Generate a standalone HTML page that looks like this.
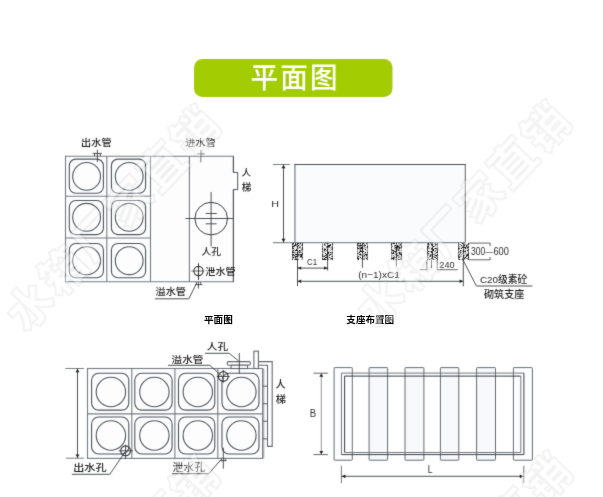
<!DOCTYPE html>
<html lang="zh-CN">
<head>
<meta charset="utf-8">
<title>平面图</title>
<style>
html,body{margin:0;padding:0;background:#fff;}
body{width:603px;height:497px;overflow:hidden;font-family:"Liberation Sans","Noto Sans CJK SC",sans-serif;}
svg{display:block;font-family:"Liberation Sans","Noto Sans CJK SC",sans-serif;}
</style>
</head>
<body>
<svg width="603" height="497" viewBox="0 0 603 497">
<defs><filter id="soft" x="0" y="0" width="100%" height="100%" filterUnits="userSpaceOnUse" color-interpolation-filters="sRGB"><feConvolveMatrix order="3" kernelMatrix="0.0113 0.0838 0.0113 0.0838 0.6196 0.0838 0.0113 0.0838 0.0113" divisor="1" edgeMode="duplicate" preserveAlpha="false"/></filter></defs>
<rect width="603" height="497" fill="#fff"/>
<g filter="url(#soft)">
<!-- title banner -->
<rect x="194" y="59" width="198.5" height="38" rx="8.5" fill="#a3cc02"/>
<text transform="translate(250.5,88.3) scale(0.97,1)" font-size="28.5" letter-spacing="2.2" fill="#fff" font-weight="500">平面图</text>
<!-- top-left: plan view -->
<rect x="65.5" y="156.3" width="167.9" height="125.5" fill="#fdfdfe"/>
<polyline points="233.4,172.4 233.4,156.3 65.5,156.3 65.5,281.8 233.4,281.8 233.4,189.6" fill="none" stroke="#757c83" stroke-width="1.1"/>
<polyline points="233.4,156.3 233.4,172.4 237.7,172.4 237.7,189.6 233.4,189.6 233.4,281.8" fill="none" stroke="#4a5056" stroke-width="1"/>
<line x1="106.8" y1="156.3" x2="106.8" y2="281.8" stroke="#757c83" stroke-width="1.1"/>
<line x1="150.5" y1="156.3" x2="150.5" y2="281.8" stroke="#757c83" stroke-width="1.1"/>
<line x1="189.4" y1="156.3" x2="189.4" y2="281.8" stroke="#757c83" stroke-width="1.1"/>
<line x1="65.5" y1="196.3" x2="150.5" y2="196.3" stroke="#757c83" stroke-width="1.1"/>
<line x1="65.5" y1="238" x2="150.5" y2="238" stroke="#757c83" stroke-width="1.1"/>
<rect x="69.30" y="159.10" width="34.10" height="34.10" rx="6.5" fill="none" stroke="#4f565d" stroke-width="1.1"/>
<circle cx="86.6" cy="176.4" r="13.9" fill="none" stroke="#4f565d" stroke-width="1.1"/>
<rect x="111.40" y="159.10" width="34.20" height="34.10" rx="6.5" fill="none" stroke="#4f565d" stroke-width="1.1"/>
<circle cx="129.2" cy="176.4" r="13.9" fill="none" stroke="#4f565d" stroke-width="1.1"/>
<rect x="69.30" y="200.50" width="34.10" height="34.10" rx="6.5" fill="none" stroke="#4f565d" stroke-width="1.1"/>
<circle cx="86.6" cy="217.3" r="13.9" fill="none" stroke="#4f565d" stroke-width="1.1"/>
<rect x="111.40" y="200.50" width="34.20" height="34.10" rx="6.5" fill="none" stroke="#4f565d" stroke-width="1.1"/>
<circle cx="129.2" cy="217.3" r="13.9" fill="none" stroke="#4f565d" stroke-width="1.1"/>
<rect x="69.30" y="243.50" width="34.10" height="34.30" rx="6.5" fill="none" stroke="#4f565d" stroke-width="1.1"/>
<circle cx="86.6" cy="260.7" r="13.9" fill="none" stroke="#4f565d" stroke-width="1.1"/>
<rect x="111.40" y="243.50" width="34.20" height="34.30" rx="6.5" fill="none" stroke="#4f565d" stroke-width="1.1"/>
<circle cx="129.2" cy="260.7" r="13.9" fill="none" stroke="#4f565d" stroke-width="1.1"/>
<line x1="97.4" y1="149.7" x2="97.4" y2="162" stroke="#3a3d40" stroke-width="0.9"/>
<line x1="92.7" y1="153.4" x2="101.8" y2="153.4" stroke="#3a3d40" stroke-width="0.9"/>
<line x1="94.6" y1="153.4" x2="94.6" y2="156" stroke="#3a3d40" stroke-width="0.9"/>
<line x1="100.3" y1="153.4" x2="100.3" y2="156" stroke="#3a3d40" stroke-width="0.9"/>
<line x1="200.8" y1="150" x2="200.8" y2="162.3" stroke="#666" stroke-width="0.9"/>
<line x1="196.8" y1="153.9" x2="204.7" y2="153.9" stroke="#666" stroke-width="0.9"/>
<circle cx="211.2" cy="218.6" r="16.3" fill="none" stroke="#3a3d40" stroke-width="1"/>
<line x1="185.4" y1="218.5" x2="233.2" y2="218.5" stroke="#3a3d40" stroke-width="0.9"/>
<line x1="211.1" y1="192" x2="211.1" y2="246.4" stroke="#3a3d40" stroke-width="0.9"/>
<line x1="205.7" y1="213.5" x2="216.7" y2="213.5" stroke="#3a3d40" stroke-width="0.9"/>
<line x1="205.7" y1="223.8" x2="216.7" y2="223.8" stroke="#3a3d40" stroke-width="0.9"/>
<circle cx="198.5" cy="271" r="4.6" fill="none" stroke="#333" stroke-width="1.1"/>
<line x1="191.3" y1="271" x2="204.3" y2="271" stroke="#555" stroke-width="0.9"/>
<line x1="198.5" y1="263.3" x2="198.5" y2="279.9" stroke="#222" stroke-width="0.9"/>
<line x1="198.4" y1="281.8" x2="198.4" y2="288.6" stroke="#3a3d40" stroke-width="0.9"/>
<line x1="195" y1="284.6" x2="202.4" y2="284.6" stroke="#3a3d40" stroke-width="0.9"/>
<line x1="196.4" y1="282" x2="196.4" y2="284.6" stroke="#3a3d40" stroke-width="0.8"/>
<line x1="200.6" y1="282" x2="200.6" y2="284.6" stroke="#3a3d40" stroke-width="0.8"/>
<polyline points="154.9,298.8 188.8,298.8 195.8,284.8" fill="none" stroke="#3a3d40" stroke-width="0.9"/>
<text transform="translate(81.08,145.87) scale(1.099,1)" font-size="9.26" fill="#1d1d1d" font-weight="500">出水管</text>
<text transform="translate(184.99,145.95) scale(1.102,1)" font-size="9.35" fill="#222" font-weight="normal">进水管</text>
<text transform="translate(241.51,176.25) scale(1.035,1)" font-size="9.35" fill="#1d1d1d" font-weight="500">人</text>
<text transform="translate(241.81,190.62) scale(0.977,1)" font-size="9.79" fill="#1d1d1d" font-weight="500">梯</text>
<text transform="translate(201.41,255.35) scale(1.048,1)" font-size="9.35" fill="#1d1d1d" font-weight="500">人孔</text>
<text transform="translate(205.29,274.75) scale(1.074,1)" font-size="9.47" fill="#1d1d1d" font-weight="500">泄水管</text>
<text transform="translate(155.49,294.76) scale(1.087,1)" font-size="9.36" fill="#1d1d1d" font-weight="500">溢水管</text>
<!-- top-right: support layout elevation -->
<rect x="294.9" y="164.5" width="170.4" height="78.1" fill="#f9fbfd"/>
<line x1="294.9" y1="164" x2="294.9" y2="242.6" stroke="#7d868e" stroke-width="1.3"/>
<line x1="465.3" y1="164" x2="465.3" y2="242.6" stroke="#5a6168" stroke-width="1"/>
<line x1="294.3" y1="164.5" x2="465.8" y2="164.5" stroke="#4a4f55" stroke-width="1.1"/>
<line x1="272.9" y1="242.6" x2="465.3" y2="242.6" stroke="#8a8e92" stroke-width="1.3"/>
<line x1="272.9" y1="164.5" x2="289.9" y2="164.5" stroke="#6a6e72" stroke-width="0.9"/>
<line x1="283.5" y1="164.5" x2="283.5" y2="242.5" stroke="#3a3d40" stroke-width="0.9"/>
<polygon points="283.5,164.9 281.5,168.3 285.5,168.3" fill="#222"/>
<polygon points="283.5,242.2 281.5,238.79999999999998 285.5,238.79999999999998" fill="#222"/>
<text transform="translate(271.34,207.20) scale(1.136,1)" font-size="9.43" fill="#2e2e2e" font-weight="normal">H</text>
<g shape-rendering="crispEdges"><rect x="292" y="243" width="11" height="17" fill="#f4f4f4"/><rect x="292" y="243" width="1" height="1" fill="#3a3a3a"/><rect x="293" y="243" width="1" height="1" fill="#1c1c1c"/><rect x="295" y="243" width="1" height="1" fill="#1c1c1c"/><rect x="296" y="243" width="1" height="1" fill="#cfcfcf"/><rect x="297" y="243" width="1" height="1" fill="#2a2a2a"/><rect x="298" y="243" width="1" height="1" fill="#1c1c1c"/><rect x="299" y="243" width="1" height="1" fill="#cfcfcf"/><rect x="300" y="243" width="1" height="1" fill="#1c1c1c"/><rect x="301" y="243" width="1" height="1" fill="#cfcfcf"/><rect x="302" y="243" width="1" height="1" fill="#3a3a3a"/><rect x="292" y="244" width="1" height="1" fill="#3a3a3a"/><rect x="293" y="244" width="1" height="1" fill="#cfcfcf"/><rect x="295" y="244" width="1" height="1" fill="#1c1c1c"/><rect x="296" y="244" width="1" height="1" fill="#8e8e8e"/><rect x="297" y="244" width="1" height="1" fill="#2a2a2a"/><rect x="299" y="244" width="1" height="1" fill="#cfcfcf"/><rect x="300" y="244" width="1" height="1" fill="#8e8e8e"/><rect x="302" y="244" width="1" height="1" fill="#3a3a3a"/><rect x="292" y="245" width="1" height="1" fill="#9a9a9a"/><rect x="293" y="245" width="1" height="1" fill="#8e8e8e"/><rect x="294" y="245" width="1" height="1" fill="#1c1c1c"/><rect x="295" y="245" width="1" height="1" fill="#1c1c1c"/><rect x="296" y="245" width="1" height="1" fill="#8e8e8e"/><rect x="297" y="245" width="1" height="1" fill="#888"/><rect x="298" y="245" width="1" height="1" fill="#1c1c1c"/><rect x="299" y="245" width="1" height="1" fill="#cfcfcf"/><rect x="301" y="245" width="1" height="1" fill="#8e8e8e"/><rect x="302" y="245" width="1" height="1" fill="#3a3a3a"/><rect x="292" y="246" width="1" height="1" fill="#3a3a3a"/><rect x="293" y="246" width="1" height="1" fill="#1c1c1c"/><rect x="294" y="246" width="1" height="1" fill="#8e8e8e"/><rect x="296" y="246" width="1" height="1" fill="#cfcfcf"/><rect x="297" y="246" width="1" height="1" fill="#2a2a2a"/><rect x="298" y="246" width="1" height="1" fill="#cfcfcf"/><rect x="299" y="246" width="1" height="1" fill="#cfcfcf"/><rect x="300" y="246" width="1" height="1" fill="#8e8e8e"/><rect x="302" y="246" width="1" height="1" fill="#9a9a9a"/><rect x="292" y="247" width="1" height="1" fill="#3a3a3a"/><rect x="293" y="247" width="1" height="1" fill="#cfcfcf"/><rect x="294" y="247" width="1" height="1" fill="#cfcfcf"/><rect x="297" y="247" width="1" height="1" fill="#2a2a2a"/><rect x="299" y="247" width="1" height="1" fill="#1c1c1c"/><rect x="300" y="247" width="1" height="1" fill="#8e8e8e"/><rect x="302" y="247" width="1" height="1" fill="#3a3a3a"/><rect x="292" y="248" width="1" height="1" fill="#3a3a3a"/><rect x="293" y="248" width="1" height="1" fill="#1c1c1c"/><rect x="296" y="248" width="1" height="1" fill="#cfcfcf"/><rect x="297" y="248" width="1" height="1" fill="#888"/><rect x="298" y="248" width="1" height="1" fill="#8e8e8e"/><rect x="300" y="248" width="1" height="1" fill="#cfcfcf"/><rect x="301" y="248" width="1" height="1" fill="#cfcfcf"/><rect x="302" y="248" width="1" height="1" fill="#3a3a3a"/><rect x="292" y="249" width="1" height="1" fill="#9a9a9a"/><rect x="294" y="249" width="1" height="1" fill="#cfcfcf"/><rect x="296" y="249" width="1" height="1" fill="#1c1c1c"/><rect x="297" y="249" width="1" height="1" fill="#888"/><rect x="301" y="249" width="1" height="1" fill="#8e8e8e"/><rect x="302" y="249" width="1" height="1" fill="#3a3a3a"/><rect x="292" y="250" width="1" height="1" fill="#9a9a9a"/><rect x="293" y="250" width="1" height="1" fill="#1c1c1c"/><rect x="294" y="250" width="1" height="1" fill="#cfcfcf"/><rect x="295" y="250" width="1" height="1" fill="#1c1c1c"/><rect x="296" y="250" width="1" height="1" fill="#1c1c1c"/><rect x="297" y="250" width="1" height="1" fill="#2a2a2a"/><rect x="299" y="250" width="1" height="1" fill="#1c1c1c"/><rect x="300" y="250" width="1" height="1" fill="#8e8e8e"/><rect x="301" y="250" width="1" height="1" fill="#8e8e8e"/><rect x="302" y="250" width="1" height="1" fill="#9a9a9a"/><rect x="292" y="251" width="1" height="1" fill="#3a3a3a"/><rect x="293" y="251" width="1" height="1" fill="#cfcfcf"/><rect x="294" y="251" width="1" height="1" fill="#cfcfcf"/><rect x="297" y="251" width="1" height="1" fill="#888"/><rect x="298" y="251" width="1" height="1" fill="#8e8e8e"/><rect x="299" y="251" width="1" height="1" fill="#8e8e8e"/><rect x="300" y="251" width="1" height="1" fill="#8e8e8e"/><rect x="302" y="251" width="1" height="1" fill="#9a9a9a"/><rect x="292" y="252" width="1" height="1" fill="#3a3a3a"/><rect x="293" y="252" width="1" height="1" fill="#1c1c1c"/><rect x="294" y="252" width="1" height="1" fill="#8e8e8e"/><rect x="295" y="252" width="1" height="1" fill="#8e8e8e"/><rect x="296" y="252" width="1" height="1" fill="#cfcfcf"/><rect x="297" y="252" width="1" height="1" fill="#2a2a2a"/><rect x="298" y="252" width="1" height="1" fill="#8e8e8e"/><rect x="299" y="252" width="1" height="1" fill="#1c1c1c"/><rect x="300" y="252" width="1" height="1" fill="#8e8e8e"/><rect x="301" y="252" width="1" height="1" fill="#8e8e8e"/><rect x="302" y="252" width="1" height="1" fill="#9a9a9a"/><rect x="292" y="253" width="1" height="1" fill="#9a9a9a"/><rect x="294" y="253" width="1" height="1" fill="#cfcfcf"/><rect x="295" y="253" width="1" height="1" fill="#cfcfcf"/><rect x="297" y="253" width="1" height="1" fill="#2a2a2a"/><rect x="302" y="253" width="1" height="1" fill="#3a3a3a"/><rect x="292" y="254" width="1" height="1" fill="#3a3a3a"/><rect x="293" y="254" width="1" height="1" fill="#1c1c1c"/><rect x="295" y="254" width="1" height="1" fill="#1c1c1c"/><rect x="296" y="254" width="1" height="1" fill="#1c1c1c"/><rect x="297" y="254" width="1" height="1" fill="#2a2a2a"/><rect x="298" y="254" width="1" height="1" fill="#1c1c1c"/><rect x="299" y="254" width="1" height="1" fill="#8e8e8e"/><rect x="300" y="254" width="1" height="1" fill="#1c1c1c"/><rect x="301" y="254" width="1" height="1" fill="#1c1c1c"/><rect x="302" y="254" width="1" height="1" fill="#3a3a3a"/><rect x="292" y="255" width="1" height="1" fill="#3a3a3a"/><rect x="293" y="255" width="1" height="1" fill="#8e8e8e"/><rect x="294" y="255" width="1" height="1" fill="#1c1c1c"/><rect x="296" y="255" width="1" height="1" fill="#cfcfcf"/><rect x="297" y="255" width="1" height="1" fill="#2a2a2a"/><rect x="298" y="255" width="1" height="1" fill="#8e8e8e"/><rect x="299" y="255" width="1" height="1" fill="#8e8e8e"/><rect x="300" y="255" width="1" height="1" fill="#8e8e8e"/><rect x="301" y="255" width="1" height="1" fill="#1c1c1c"/><rect x="302" y="255" width="1" height="1" fill="#9a9a9a"/><rect x="292" y="256" width="1" height="1" fill="#9a9a9a"/><rect x="293" y="256" width="1" height="1" fill="#cfcfcf"/><rect x="294" y="256" width="1" height="1" fill="#cfcfcf"/><rect x="295" y="256" width="1" height="1" fill="#1c1c1c"/><rect x="296" y="256" width="1" height="1" fill="#1c1c1c"/><rect x="297" y="256" width="1" height="1" fill="#2a2a2a"/><rect x="298" y="256" width="1" height="1" fill="#8e8e8e"/><rect x="300" y="256" width="1" height="1" fill="#1c1c1c"/><rect x="301" y="256" width="1" height="1" fill="#1c1c1c"/><rect x="302" y="256" width="1" height="1" fill="#9a9a9a"/><rect x="292" y="257" width="1" height="1" fill="#3a3a3a"/><rect x="293" y="257" width="1" height="1" fill="#1c1c1c"/><rect x="294" y="257" width="1" height="1" fill="#cfcfcf"/><rect x="295" y="257" width="1" height="1" fill="#1c1c1c"/><rect x="296" y="257" width="1" height="1" fill="#cfcfcf"/><rect x="297" y="257" width="1" height="1" fill="#888"/><rect x="300" y="257" width="1" height="1" fill="#8e8e8e"/><rect x="301" y="257" width="1" height="1" fill="#8e8e8e"/><rect x="302" y="257" width="1" height="1" fill="#3a3a3a"/><rect x="292" y="258" width="1" height="1" fill="#9a9a9a"/><rect x="293" y="258" width="1" height="1" fill="#cfcfcf"/><rect x="295" y="258" width="1" height="1" fill="#8e8e8e"/><rect x="296" y="258" width="1" height="1" fill="#8e8e8e"/><rect x="297" y="258" width="1" height="1" fill="#888"/><rect x="302" y="258" width="1" height="1" fill="#9a9a9a"/><rect x="292" y="259" width="1" height="1" fill="#3a3a3a"/><rect x="293" y="259" width="1" height="1" fill="#cfcfcf"/><rect x="294" y="259" width="1" height="1" fill="#8e8e8e"/><rect x="295" y="259" width="1" height="1" fill="#1c1c1c"/><rect x="296" y="259" width="1" height="1" fill="#1c1c1c"/><rect x="297" y="259" width="1" height="1" fill="#2a2a2a"/><rect x="298" y="259" width="1" height="1" fill="#8e8e8e"/><rect x="301" y="259" width="1" height="1" fill="#cfcfcf"/><rect x="302" y="259" width="1" height="1" fill="#9a9a9a"/></g>
<g shape-rendering="crispEdges"><rect x="322" y="243" width="11" height="17" fill="#f4f4f4"/><rect x="322" y="243" width="1" height="1" fill="#9a9a9a"/><rect x="324" y="243" width="1" height="1" fill="#8e8e8e"/><rect x="325" y="243" width="1" height="1" fill="#8e8e8e"/><rect x="326" y="243" width="1" height="1" fill="#8e8e8e"/><rect x="327" y="243" width="1" height="1" fill="#2a2a2a"/><rect x="328" y="243" width="1" height="1" fill="#8e8e8e"/><rect x="332" y="243" width="1" height="1" fill="#3a3a3a"/><rect x="322" y="244" width="1" height="1" fill="#9a9a9a"/><rect x="324" y="244" width="1" height="1" fill="#1c1c1c"/><rect x="327" y="244" width="1" height="1" fill="#888"/><rect x="329" y="244" width="1" height="1" fill="#cfcfcf"/><rect x="330" y="244" width="1" height="1" fill="#1c1c1c"/><rect x="332" y="244" width="1" height="1" fill="#3a3a3a"/><rect x="322" y="245" width="1" height="1" fill="#9a9a9a"/><rect x="324" y="245" width="1" height="1" fill="#8e8e8e"/><rect x="325" y="245" width="1" height="1" fill="#8e8e8e"/><rect x="327" y="245" width="1" height="1" fill="#888"/><rect x="328" y="245" width="1" height="1" fill="#1c1c1c"/><rect x="329" y="245" width="1" height="1" fill="#1c1c1c"/><rect x="330" y="245" width="1" height="1" fill="#1c1c1c"/><rect x="332" y="245" width="1" height="1" fill="#9a9a9a"/><rect x="322" y="246" width="1" height="1" fill="#3a3a3a"/><rect x="326" y="246" width="1" height="1" fill="#8e8e8e"/><rect x="327" y="246" width="1" height="1" fill="#2a2a2a"/><rect x="328" y="246" width="1" height="1" fill="#1c1c1c"/><rect x="329" y="246" width="1" height="1" fill="#1c1c1c"/><rect x="332" y="246" width="1" height="1" fill="#3a3a3a"/><rect x="322" y="247" width="1" height="1" fill="#9a9a9a"/><rect x="323" y="247" width="1" height="1" fill="#cfcfcf"/><rect x="326" y="247" width="1" height="1" fill="#8e8e8e"/><rect x="327" y="247" width="1" height="1" fill="#2a2a2a"/><rect x="328" y="247" width="1" height="1" fill="#8e8e8e"/><rect x="329" y="247" width="1" height="1" fill="#8e8e8e"/><rect x="330" y="247" width="1" height="1" fill="#cfcfcf"/><rect x="331" y="247" width="1" height="1" fill="#8e8e8e"/><rect x="332" y="247" width="1" height="1" fill="#3a3a3a"/><rect x="322" y="248" width="1" height="1" fill="#3a3a3a"/><rect x="324" y="248" width="1" height="1" fill="#8e8e8e"/><rect x="325" y="248" width="1" height="1" fill="#cfcfcf"/><rect x="326" y="248" width="1" height="1" fill="#cfcfcf"/><rect x="327" y="248" width="1" height="1" fill="#888"/><rect x="328" y="248" width="1" height="1" fill="#cfcfcf"/><rect x="330" y="248" width="1" height="1" fill="#cfcfcf"/><rect x="331" y="248" width="1" height="1" fill="#cfcfcf"/><rect x="332" y="248" width="1" height="1" fill="#3a3a3a"/><rect x="322" y="249" width="1" height="1" fill="#3a3a3a"/><rect x="323" y="249" width="1" height="1" fill="#cfcfcf"/><rect x="324" y="249" width="1" height="1" fill="#1c1c1c"/><rect x="325" y="249" width="1" height="1" fill="#1c1c1c"/><rect x="327" y="249" width="1" height="1" fill="#2a2a2a"/><rect x="328" y="249" width="1" height="1" fill="#cfcfcf"/><rect x="330" y="249" width="1" height="1" fill="#cfcfcf"/><rect x="331" y="249" width="1" height="1" fill="#8e8e8e"/><rect x="332" y="249" width="1" height="1" fill="#3a3a3a"/><rect x="322" y="250" width="1" height="1" fill="#9a9a9a"/><rect x="324" y="250" width="1" height="1" fill="#1c1c1c"/><rect x="325" y="250" width="1" height="1" fill="#cfcfcf"/><rect x="326" y="250" width="1" height="1" fill="#8e8e8e"/><rect x="327" y="250" width="1" height="1" fill="#2a2a2a"/><rect x="329" y="250" width="1" height="1" fill="#cfcfcf"/><rect x="330" y="250" width="1" height="1" fill="#cfcfcf"/><rect x="332" y="250" width="1" height="1" fill="#9a9a9a"/><rect x="322" y="251" width="1" height="1" fill="#3a3a3a"/><rect x="323" y="251" width="1" height="1" fill="#cfcfcf"/><rect x="324" y="251" width="1" height="1" fill="#cfcfcf"/><rect x="325" y="251" width="1" height="1" fill="#cfcfcf"/><rect x="327" y="251" width="1" height="1" fill="#2a2a2a"/><rect x="328" y="251" width="1" height="1" fill="#cfcfcf"/><rect x="329" y="251" width="1" height="1" fill="#cfcfcf"/><rect x="332" y="251" width="1" height="1" fill="#9a9a9a"/><rect x="322" y="252" width="1" height="1" fill="#9a9a9a"/><rect x="323" y="252" width="1" height="1" fill="#8e8e8e"/><rect x="324" y="252" width="1" height="1" fill="#cfcfcf"/><rect x="327" y="252" width="1" height="1" fill="#2a2a2a"/><rect x="328" y="252" width="1" height="1" fill="#1c1c1c"/><rect x="329" y="252" width="1" height="1" fill="#cfcfcf"/><rect x="330" y="252" width="1" height="1" fill="#1c1c1c"/><rect x="331" y="252" width="1" height="1" fill="#8e8e8e"/><rect x="332" y="252" width="1" height="1" fill="#3a3a3a"/><rect x="322" y="253" width="1" height="1" fill="#9a9a9a"/><rect x="325" y="253" width="1" height="1" fill="#1c1c1c"/><rect x="327" y="253" width="1" height="1" fill="#2a2a2a"/><rect x="328" y="253" width="1" height="1" fill="#1c1c1c"/><rect x="331" y="253" width="1" height="1" fill="#8e8e8e"/><rect x="332" y="253" width="1" height="1" fill="#9a9a9a"/><rect x="322" y="254" width="1" height="1" fill="#3a3a3a"/><rect x="323" y="254" width="1" height="1" fill="#cfcfcf"/><rect x="326" y="254" width="1" height="1" fill="#1c1c1c"/><rect x="327" y="254" width="1" height="1" fill="#2a2a2a"/><rect x="328" y="254" width="1" height="1" fill="#cfcfcf"/><rect x="329" y="254" width="1" height="1" fill="#8e8e8e"/><rect x="330" y="254" width="1" height="1" fill="#1c1c1c"/><rect x="331" y="254" width="1" height="1" fill="#8e8e8e"/><rect x="332" y="254" width="1" height="1" fill="#9a9a9a"/><rect x="322" y="255" width="1" height="1" fill="#3a3a3a"/><rect x="323" y="255" width="1" height="1" fill="#cfcfcf"/><rect x="324" y="255" width="1" height="1" fill="#cfcfcf"/><rect x="325" y="255" width="1" height="1" fill="#1c1c1c"/><rect x="326" y="255" width="1" height="1" fill="#8e8e8e"/><rect x="327" y="255" width="1" height="1" fill="#2a2a2a"/><rect x="328" y="255" width="1" height="1" fill="#cfcfcf"/><rect x="329" y="255" width="1" height="1" fill="#1c1c1c"/><rect x="332" y="255" width="1" height="1" fill="#9a9a9a"/><rect x="322" y="256" width="1" height="1" fill="#3a3a3a"/><rect x="323" y="256" width="1" height="1" fill="#8e8e8e"/><rect x="324" y="256" width="1" height="1" fill="#1c1c1c"/><rect x="326" y="256" width="1" height="1" fill="#8e8e8e"/><rect x="327" y="256" width="1" height="1" fill="#2a2a2a"/><rect x="328" y="256" width="1" height="1" fill="#cfcfcf"/><rect x="331" y="256" width="1" height="1" fill="#8e8e8e"/><rect x="332" y="256" width="1" height="1" fill="#3a3a3a"/><rect x="322" y="257" width="1" height="1" fill="#9a9a9a"/><rect x="323" y="257" width="1" height="1" fill="#cfcfcf"/><rect x="325" y="257" width="1" height="1" fill="#1c1c1c"/><rect x="326" y="257" width="1" height="1" fill="#1c1c1c"/><rect x="327" y="257" width="1" height="1" fill="#2a2a2a"/><rect x="328" y="257" width="1" height="1" fill="#cfcfcf"/><rect x="329" y="257" width="1" height="1" fill="#1c1c1c"/><rect x="332" y="257" width="1" height="1" fill="#9a9a9a"/><rect x="322" y="258" width="1" height="1" fill="#3a3a3a"/><rect x="324" y="258" width="1" height="1" fill="#1c1c1c"/><rect x="326" y="258" width="1" height="1" fill="#cfcfcf"/><rect x="327" y="258" width="1" height="1" fill="#2a2a2a"/><rect x="328" y="258" width="1" height="1" fill="#cfcfcf"/><rect x="330" y="258" width="1" height="1" fill="#8e8e8e"/><rect x="331" y="258" width="1" height="1" fill="#1c1c1c"/><rect x="332" y="258" width="1" height="1" fill="#3a3a3a"/><rect x="322" y="259" width="1" height="1" fill="#3a3a3a"/><rect x="323" y="259" width="1" height="1" fill="#1c1c1c"/><rect x="324" y="259" width="1" height="1" fill="#1c1c1c"/><rect x="325" y="259" width="1" height="1" fill="#1c1c1c"/><rect x="326" y="259" width="1" height="1" fill="#8e8e8e"/><rect x="327" y="259" width="1" height="1" fill="#2a2a2a"/><rect x="328" y="259" width="1" height="1" fill="#8e8e8e"/><rect x="330" y="259" width="1" height="1" fill="#8e8e8e"/><rect x="331" y="259" width="1" height="1" fill="#cfcfcf"/><rect x="332" y="259" width="1" height="1" fill="#3a3a3a"/></g>
<g shape-rendering="crispEdges"><rect x="357" y="243" width="11" height="17" fill="#f4f4f4"/><rect x="357" y="243" width="1" height="1" fill="#3a3a3a"/><rect x="358" y="243" width="1" height="1" fill="#1c1c1c"/><rect x="359" y="243" width="1" height="1" fill="#8e8e8e"/><rect x="360" y="243" width="1" height="1" fill="#1c1c1c"/><rect x="362" y="243" width="1" height="1" fill="#2a2a2a"/><rect x="363" y="243" width="1" height="1" fill="#1c1c1c"/><rect x="364" y="243" width="1" height="1" fill="#cfcfcf"/><rect x="366" y="243" width="1" height="1" fill="#1c1c1c"/><rect x="367" y="243" width="1" height="1" fill="#9a9a9a"/><rect x="357" y="244" width="1" height="1" fill="#3a3a3a"/><rect x="358" y="244" width="1" height="1" fill="#cfcfcf"/><rect x="360" y="244" width="1" height="1" fill="#8e8e8e"/><rect x="361" y="244" width="1" height="1" fill="#cfcfcf"/><rect x="362" y="244" width="1" height="1" fill="#2a2a2a"/><rect x="364" y="244" width="1" height="1" fill="#8e8e8e"/><rect x="367" y="244" width="1" height="1" fill="#9a9a9a"/><rect x="357" y="245" width="1" height="1" fill="#3a3a3a"/><rect x="358" y="245" width="1" height="1" fill="#8e8e8e"/><rect x="359" y="245" width="1" height="1" fill="#1c1c1c"/><rect x="360" y="245" width="1" height="1" fill="#1c1c1c"/><rect x="361" y="245" width="1" height="1" fill="#1c1c1c"/><rect x="362" y="245" width="1" height="1" fill="#888"/><rect x="363" y="245" width="1" height="1" fill="#8e8e8e"/><rect x="364" y="245" width="1" height="1" fill="#1c1c1c"/><rect x="365" y="245" width="1" height="1" fill="#1c1c1c"/><rect x="367" y="245" width="1" height="1" fill="#9a9a9a"/><rect x="357" y="246" width="1" height="1" fill="#9a9a9a"/><rect x="358" y="246" width="1" height="1" fill="#8e8e8e"/><rect x="359" y="246" width="1" height="1" fill="#8e8e8e"/><rect x="360" y="246" width="1" height="1" fill="#8e8e8e"/><rect x="361" y="246" width="1" height="1" fill="#cfcfcf"/><rect x="362" y="246" width="1" height="1" fill="#2a2a2a"/><rect x="363" y="246" width="1" height="1" fill="#cfcfcf"/><rect x="364" y="246" width="1" height="1" fill="#8e8e8e"/><rect x="367" y="246" width="1" height="1" fill="#3a3a3a"/><rect x="357" y="247" width="1" height="1" fill="#3a3a3a"/><rect x="359" y="247" width="1" height="1" fill="#8e8e8e"/><rect x="360" y="247" width="1" height="1" fill="#8e8e8e"/><rect x="361" y="247" width="1" height="1" fill="#1c1c1c"/><rect x="362" y="247" width="1" height="1" fill="#2a2a2a"/><rect x="363" y="247" width="1" height="1" fill="#cfcfcf"/><rect x="364" y="247" width="1" height="1" fill="#cfcfcf"/><rect x="365" y="247" width="1" height="1" fill="#8e8e8e"/><rect x="366" y="247" width="1" height="1" fill="#cfcfcf"/><rect x="367" y="247" width="1" height="1" fill="#3a3a3a"/><rect x="357" y="248" width="1" height="1" fill="#3a3a3a"/><rect x="358" y="248" width="1" height="1" fill="#1c1c1c"/><rect x="359" y="248" width="1" height="1" fill="#8e8e8e"/><rect x="360" y="248" width="1" height="1" fill="#1c1c1c"/><rect x="361" y="248" width="1" height="1" fill="#1c1c1c"/><rect x="362" y="248" width="1" height="1" fill="#2a2a2a"/><rect x="363" y="248" width="1" height="1" fill="#8e8e8e"/><rect x="364" y="248" width="1" height="1" fill="#cfcfcf"/><rect x="365" y="248" width="1" height="1" fill="#cfcfcf"/><rect x="367" y="248" width="1" height="1" fill="#9a9a9a"/><rect x="357" y="249" width="1" height="1" fill="#9a9a9a"/><rect x="359" y="249" width="1" height="1" fill="#8e8e8e"/><rect x="360" y="249" width="1" height="1" fill="#8e8e8e"/><rect x="362" y="249" width="1" height="1" fill="#2a2a2a"/><rect x="365" y="249" width="1" height="1" fill="#1c1c1c"/><rect x="367" y="249" width="1" height="1" fill="#9a9a9a"/><rect x="357" y="250" width="1" height="1" fill="#9a9a9a"/><rect x="360" y="250" width="1" height="1" fill="#1c1c1c"/><rect x="361" y="250" width="1" height="1" fill="#cfcfcf"/><rect x="362" y="250" width="1" height="1" fill="#2a2a2a"/><rect x="366" y="250" width="1" height="1" fill="#cfcfcf"/><rect x="367" y="250" width="1" height="1" fill="#9a9a9a"/><rect x="357" y="251" width="1" height="1" fill="#9a9a9a"/><rect x="359" y="251" width="1" height="1" fill="#8e8e8e"/><rect x="360" y="251" width="1" height="1" fill="#1c1c1c"/><rect x="361" y="251" width="1" height="1" fill="#1c1c1c"/><rect x="362" y="251" width="1" height="1" fill="#2a2a2a"/><rect x="363" y="251" width="1" height="1" fill="#1c1c1c"/><rect x="365" y="251" width="1" height="1" fill="#cfcfcf"/><rect x="367" y="251" width="1" height="1" fill="#9a9a9a"/><rect x="357" y="252" width="1" height="1" fill="#9a9a9a"/><rect x="358" y="252" width="1" height="1" fill="#cfcfcf"/><rect x="359" y="252" width="1" height="1" fill="#1c1c1c"/><rect x="362" y="252" width="1" height="1" fill="#2a2a2a"/><rect x="363" y="252" width="1" height="1" fill="#cfcfcf"/><rect x="365" y="252" width="1" height="1" fill="#1c1c1c"/><rect x="367" y="252" width="1" height="1" fill="#3a3a3a"/><rect x="357" y="253" width="1" height="1" fill="#3a3a3a"/><rect x="358" y="253" width="1" height="1" fill="#8e8e8e"/><rect x="360" y="253" width="1" height="1" fill="#8e8e8e"/><rect x="362" y="253" width="1" height="1" fill="#888"/><rect x="363" y="253" width="1" height="1" fill="#cfcfcf"/><rect x="364" y="253" width="1" height="1" fill="#8e8e8e"/><rect x="365" y="253" width="1" height="1" fill="#cfcfcf"/><rect x="367" y="253" width="1" height="1" fill="#9a9a9a"/><rect x="357" y="254" width="1" height="1" fill="#9a9a9a"/><rect x="359" y="254" width="1" height="1" fill="#1c1c1c"/><rect x="360" y="254" width="1" height="1" fill="#1c1c1c"/><rect x="361" y="254" width="1" height="1" fill="#8e8e8e"/><rect x="362" y="254" width="1" height="1" fill="#888"/><rect x="363" y="254" width="1" height="1" fill="#8e8e8e"/><rect x="364" y="254" width="1" height="1" fill="#cfcfcf"/><rect x="365" y="254" width="1" height="1" fill="#1c1c1c"/><rect x="366" y="254" width="1" height="1" fill="#1c1c1c"/><rect x="367" y="254" width="1" height="1" fill="#3a3a3a"/><rect x="357" y="255" width="1" height="1" fill="#9a9a9a"/><rect x="360" y="255" width="1" height="1" fill="#8e8e8e"/><rect x="361" y="255" width="1" height="1" fill="#cfcfcf"/><rect x="362" y="255" width="1" height="1" fill="#2a2a2a"/><rect x="363" y="255" width="1" height="1" fill="#cfcfcf"/><rect x="364" y="255" width="1" height="1" fill="#1c1c1c"/><rect x="366" y="255" width="1" height="1" fill="#1c1c1c"/><rect x="367" y="255" width="1" height="1" fill="#9a9a9a"/><rect x="357" y="256" width="1" height="1" fill="#9a9a9a"/><rect x="358" y="256" width="1" height="1" fill="#1c1c1c"/><rect x="359" y="256" width="1" height="1" fill="#cfcfcf"/><rect x="362" y="256" width="1" height="1" fill="#2a2a2a"/><rect x="363" y="256" width="1" height="1" fill="#8e8e8e"/><rect x="364" y="256" width="1" height="1" fill="#8e8e8e"/><rect x="366" y="256" width="1" height="1" fill="#8e8e8e"/><rect x="367" y="256" width="1" height="1" fill="#9a9a9a"/><rect x="357" y="257" width="1" height="1" fill="#3a3a3a"/><rect x="358" y="257" width="1" height="1" fill="#cfcfcf"/><rect x="360" y="257" width="1" height="1" fill="#1c1c1c"/><rect x="362" y="257" width="1" height="1" fill="#2a2a2a"/><rect x="365" y="257" width="1" height="1" fill="#8e8e8e"/><rect x="367" y="257" width="1" height="1" fill="#3a3a3a"/><rect x="357" y="258" width="1" height="1" fill="#3a3a3a"/><rect x="358" y="258" width="1" height="1" fill="#1c1c1c"/><rect x="359" y="258" width="1" height="1" fill="#cfcfcf"/><rect x="360" y="258" width="1" height="1" fill="#cfcfcf"/><rect x="361" y="258" width="1" height="1" fill="#8e8e8e"/><rect x="362" y="258" width="1" height="1" fill="#2a2a2a"/><rect x="363" y="258" width="1" height="1" fill="#8e8e8e"/><rect x="364" y="258" width="1" height="1" fill="#8e8e8e"/><rect x="366" y="258" width="1" height="1" fill="#1c1c1c"/><rect x="367" y="258" width="1" height="1" fill="#9a9a9a"/><rect x="357" y="259" width="1" height="1" fill="#9a9a9a"/><rect x="358" y="259" width="1" height="1" fill="#1c1c1c"/><rect x="362" y="259" width="1" height="1" fill="#2a2a2a"/><rect x="363" y="259" width="1" height="1" fill="#8e8e8e"/><rect x="364" y="259" width="1" height="1" fill="#8e8e8e"/><rect x="366" y="259" width="1" height="1" fill="#cfcfcf"/><rect x="367" y="259" width="1" height="1" fill="#3a3a3a"/></g>
<g shape-rendering="crispEdges"><rect x="391" y="243" width="11" height="17" fill="#f4f4f4"/><rect x="391" y="243" width="1" height="1" fill="#3a3a3a"/><rect x="392" y="243" width="1" height="1" fill="#8e8e8e"/><rect x="393" y="243" width="1" height="1" fill="#1c1c1c"/><rect x="394" y="243" width="1" height="1" fill="#1c1c1c"/><rect x="396" y="243" width="1" height="1" fill="#2a2a2a"/><rect x="398" y="243" width="1" height="1" fill="#8e8e8e"/><rect x="399" y="243" width="1" height="1" fill="#8e8e8e"/><rect x="400" y="243" width="1" height="1" fill="#cfcfcf"/><rect x="401" y="243" width="1" height="1" fill="#3a3a3a"/><rect x="391" y="244" width="1" height="1" fill="#3a3a3a"/><rect x="396" y="244" width="1" height="1" fill="#888"/><rect x="398" y="244" width="1" height="1" fill="#cfcfcf"/><rect x="400" y="244" width="1" height="1" fill="#1c1c1c"/><rect x="401" y="244" width="1" height="1" fill="#9a9a9a"/><rect x="391" y="245" width="1" height="1" fill="#3a3a3a"/><rect x="394" y="245" width="1" height="1" fill="#8e8e8e"/><rect x="395" y="245" width="1" height="1" fill="#1c1c1c"/><rect x="396" y="245" width="1" height="1" fill="#888"/><rect x="397" y="245" width="1" height="1" fill="#1c1c1c"/><rect x="398" y="245" width="1" height="1" fill="#cfcfcf"/><rect x="399" y="245" width="1" height="1" fill="#8e8e8e"/><rect x="400" y="245" width="1" height="1" fill="#8e8e8e"/><rect x="401" y="245" width="1" height="1" fill="#9a9a9a"/><rect x="391" y="246" width="1" height="1" fill="#9a9a9a"/><rect x="392" y="246" width="1" height="1" fill="#8e8e8e"/><rect x="394" y="246" width="1" height="1" fill="#8e8e8e"/><rect x="395" y="246" width="1" height="1" fill="#cfcfcf"/><rect x="396" y="246" width="1" height="1" fill="#2a2a2a"/><rect x="397" y="246" width="1" height="1" fill="#1c1c1c"/><rect x="398" y="246" width="1" height="1" fill="#1c1c1c"/><rect x="399" y="246" width="1" height="1" fill="#8e8e8e"/><rect x="401" y="246" width="1" height="1" fill="#3a3a3a"/><rect x="391" y="247" width="1" height="1" fill="#3a3a3a"/><rect x="394" y="247" width="1" height="1" fill="#cfcfcf"/><rect x="395" y="247" width="1" height="1" fill="#1c1c1c"/><rect x="396" y="247" width="1" height="1" fill="#2a2a2a"/><rect x="397" y="247" width="1" height="1" fill="#1c1c1c"/><rect x="398" y="247" width="1" height="1" fill="#8e8e8e"/><rect x="399" y="247" width="1" height="1" fill="#1c1c1c"/><rect x="400" y="247" width="1" height="1" fill="#8e8e8e"/><rect x="401" y="247" width="1" height="1" fill="#3a3a3a"/><rect x="391" y="248" width="1" height="1" fill="#9a9a9a"/><rect x="394" y="248" width="1" height="1" fill="#8e8e8e"/><rect x="395" y="248" width="1" height="1" fill="#8e8e8e"/><rect x="396" y="248" width="1" height="1" fill="#2a2a2a"/><rect x="397" y="248" width="1" height="1" fill="#8e8e8e"/><rect x="398" y="248" width="1" height="1" fill="#8e8e8e"/><rect x="399" y="248" width="1" height="1" fill="#1c1c1c"/><rect x="400" y="248" width="1" height="1" fill="#8e8e8e"/><rect x="401" y="248" width="1" height="1" fill="#9a9a9a"/><rect x="391" y="249" width="1" height="1" fill="#3a3a3a"/><rect x="392" y="249" width="1" height="1" fill="#cfcfcf"/><rect x="395" y="249" width="1" height="1" fill="#8e8e8e"/><rect x="396" y="249" width="1" height="1" fill="#2a2a2a"/><rect x="397" y="249" width="1" height="1" fill="#8e8e8e"/><rect x="398" y="249" width="1" height="1" fill="#8e8e8e"/><rect x="399" y="249" width="1" height="1" fill="#cfcfcf"/><rect x="401" y="249" width="1" height="1" fill="#9a9a9a"/><rect x="391" y="250" width="1" height="1" fill="#9a9a9a"/><rect x="392" y="250" width="1" height="1" fill="#1c1c1c"/><rect x="393" y="250" width="1" height="1" fill="#1c1c1c"/><rect x="396" y="250" width="1" height="1" fill="#2a2a2a"/><rect x="397" y="250" width="1" height="1" fill="#cfcfcf"/><rect x="398" y="250" width="1" height="1" fill="#1c1c1c"/><rect x="399" y="250" width="1" height="1" fill="#8e8e8e"/><rect x="401" y="250" width="1" height="1" fill="#9a9a9a"/><rect x="391" y="251" width="1" height="1" fill="#9a9a9a"/><rect x="393" y="251" width="1" height="1" fill="#8e8e8e"/><rect x="394" y="251" width="1" height="1" fill="#1c1c1c"/><rect x="395" y="251" width="1" height="1" fill="#1c1c1c"/><rect x="396" y="251" width="1" height="1" fill="#2a2a2a"/><rect x="401" y="251" width="1" height="1" fill="#9a9a9a"/><rect x="391" y="252" width="1" height="1" fill="#3a3a3a"/><rect x="392" y="252" width="1" height="1" fill="#cfcfcf"/><rect x="393" y="252" width="1" height="1" fill="#1c1c1c"/><rect x="395" y="252" width="1" height="1" fill="#8e8e8e"/><rect x="396" y="252" width="1" height="1" fill="#888"/><rect x="398" y="252" width="1" height="1" fill="#8e8e8e"/><rect x="399" y="252" width="1" height="1" fill="#1c1c1c"/><rect x="400" y="252" width="1" height="1" fill="#8e8e8e"/><rect x="401" y="252" width="1" height="1" fill="#9a9a9a"/><rect x="391" y="253" width="1" height="1" fill="#9a9a9a"/><rect x="392" y="253" width="1" height="1" fill="#1c1c1c"/><rect x="393" y="253" width="1" height="1" fill="#1c1c1c"/><rect x="394" y="253" width="1" height="1" fill="#cfcfcf"/><rect x="395" y="253" width="1" height="1" fill="#cfcfcf"/><rect x="396" y="253" width="1" height="1" fill="#2a2a2a"/><rect x="397" y="253" width="1" height="1" fill="#8e8e8e"/><rect x="398" y="253" width="1" height="1" fill="#cfcfcf"/><rect x="399" y="253" width="1" height="1" fill="#1c1c1c"/><rect x="400" y="253" width="1" height="1" fill="#8e8e8e"/><rect x="401" y="253" width="1" height="1" fill="#3a3a3a"/><rect x="391" y="254" width="1" height="1" fill="#9a9a9a"/><rect x="394" y="254" width="1" height="1" fill="#cfcfcf"/><rect x="395" y="254" width="1" height="1" fill="#8e8e8e"/><rect x="396" y="254" width="1" height="1" fill="#2a2a2a"/><rect x="399" y="254" width="1" height="1" fill="#8e8e8e"/><rect x="400" y="254" width="1" height="1" fill="#1c1c1c"/><rect x="401" y="254" width="1" height="1" fill="#3a3a3a"/><rect x="391" y="255" width="1" height="1" fill="#9a9a9a"/><rect x="392" y="255" width="1" height="1" fill="#cfcfcf"/><rect x="393" y="255" width="1" height="1" fill="#8e8e8e"/><rect x="396" y="255" width="1" height="1" fill="#2a2a2a"/><rect x="397" y="255" width="1" height="1" fill="#1c1c1c"/><rect x="398" y="255" width="1" height="1" fill="#8e8e8e"/><rect x="399" y="255" width="1" height="1" fill="#cfcfcf"/><rect x="401" y="255" width="1" height="1" fill="#3a3a3a"/><rect x="391" y="256" width="1" height="1" fill="#9a9a9a"/><rect x="393" y="256" width="1" height="1" fill="#cfcfcf"/><rect x="394" y="256" width="1" height="1" fill="#8e8e8e"/><rect x="396" y="256" width="1" height="1" fill="#2a2a2a"/><rect x="398" y="256" width="1" height="1" fill="#8e8e8e"/><rect x="399" y="256" width="1" height="1" fill="#8e8e8e"/><rect x="401" y="256" width="1" height="1" fill="#3a3a3a"/><rect x="391" y="257" width="1" height="1" fill="#9a9a9a"/><rect x="392" y="257" width="1" height="1" fill="#cfcfcf"/><rect x="393" y="257" width="1" height="1" fill="#1c1c1c"/><rect x="394" y="257" width="1" height="1" fill="#8e8e8e"/><rect x="395" y="257" width="1" height="1" fill="#8e8e8e"/><rect x="396" y="257" width="1" height="1" fill="#2a2a2a"/><rect x="398" y="257" width="1" height="1" fill="#1c1c1c"/><rect x="399" y="257" width="1" height="1" fill="#8e8e8e"/><rect x="400" y="257" width="1" height="1" fill="#8e8e8e"/><rect x="401" y="257" width="1" height="1" fill="#9a9a9a"/><rect x="391" y="258" width="1" height="1" fill="#3a3a3a"/><rect x="392" y="258" width="1" height="1" fill="#1c1c1c"/><rect x="393" y="258" width="1" height="1" fill="#1c1c1c"/><rect x="394" y="258" width="1" height="1" fill="#8e8e8e"/><rect x="396" y="258" width="1" height="1" fill="#888"/><rect x="400" y="258" width="1" height="1" fill="#8e8e8e"/><rect x="401" y="258" width="1" height="1" fill="#3a3a3a"/><rect x="391" y="259" width="1" height="1" fill="#9a9a9a"/><rect x="393" y="259" width="1" height="1" fill="#1c1c1c"/><rect x="395" y="259" width="1" height="1" fill="#8e8e8e"/><rect x="396" y="259" width="1" height="1" fill="#2a2a2a"/><rect x="397" y="259" width="1" height="1" fill="#8e8e8e"/><rect x="398" y="259" width="1" height="1" fill="#1c1c1c"/><rect x="399" y="259" width="1" height="1" fill="#1c1c1c"/><rect x="400" y="259" width="1" height="1" fill="#8e8e8e"/><rect x="401" y="259" width="1" height="1" fill="#3a3a3a"/></g>
<g shape-rendering="crispEdges"><rect x="427" y="243" width="11" height="17" fill="#f4f4f4"/><rect x="427" y="243" width="1" height="1" fill="#9a9a9a"/><rect x="428" y="243" width="1" height="1" fill="#1c1c1c"/><rect x="430" y="243" width="1" height="1" fill="#8e8e8e"/><rect x="431" y="243" width="1" height="1" fill="#8e8e8e"/><rect x="432" y="243" width="1" height="1" fill="#888"/><rect x="434" y="243" width="1" height="1" fill="#cfcfcf"/><rect x="435" y="243" width="1" height="1" fill="#1c1c1c"/><rect x="436" y="243" width="1" height="1" fill="#cfcfcf"/><rect x="437" y="243" width="1" height="1" fill="#3a3a3a"/><rect x="427" y="244" width="1" height="1" fill="#9a9a9a"/><rect x="428" y="244" width="1" height="1" fill="#1c1c1c"/><rect x="429" y="244" width="1" height="1" fill="#8e8e8e"/><rect x="431" y="244" width="1" height="1" fill="#1c1c1c"/><rect x="432" y="244" width="1" height="1" fill="#2a2a2a"/><rect x="435" y="244" width="1" height="1" fill="#1c1c1c"/><rect x="436" y="244" width="1" height="1" fill="#1c1c1c"/><rect x="437" y="244" width="1" height="1" fill="#3a3a3a"/><rect x="427" y="245" width="1" height="1" fill="#9a9a9a"/><rect x="428" y="245" width="1" height="1" fill="#8e8e8e"/><rect x="431" y="245" width="1" height="1" fill="#8e8e8e"/><rect x="432" y="245" width="1" height="1" fill="#2a2a2a"/><rect x="434" y="245" width="1" height="1" fill="#cfcfcf"/><rect x="435" y="245" width="1" height="1" fill="#8e8e8e"/><rect x="437" y="245" width="1" height="1" fill="#3a3a3a"/><rect x="427" y="246" width="1" height="1" fill="#3a3a3a"/><rect x="428" y="246" width="1" height="1" fill="#1c1c1c"/><rect x="432" y="246" width="1" height="1" fill="#888"/><rect x="433" y="246" width="1" height="1" fill="#1c1c1c"/><rect x="434" y="246" width="1" height="1" fill="#8e8e8e"/><rect x="435" y="246" width="1" height="1" fill="#cfcfcf"/><rect x="437" y="246" width="1" height="1" fill="#9a9a9a"/><rect x="427" y="247" width="1" height="1" fill="#3a3a3a"/><rect x="428" y="247" width="1" height="1" fill="#8e8e8e"/><rect x="429" y="247" width="1" height="1" fill="#cfcfcf"/><rect x="430" y="247" width="1" height="1" fill="#cfcfcf"/><rect x="432" y="247" width="1" height="1" fill="#2a2a2a"/><rect x="437" y="247" width="1" height="1" fill="#9a9a9a"/><rect x="427" y="248" width="1" height="1" fill="#3a3a3a"/><rect x="428" y="248" width="1" height="1" fill="#8e8e8e"/><rect x="429" y="248" width="1" height="1" fill="#8e8e8e"/><rect x="431" y="248" width="1" height="1" fill="#1c1c1c"/><rect x="432" y="248" width="1" height="1" fill="#2a2a2a"/><rect x="434" y="248" width="1" height="1" fill="#8e8e8e"/><rect x="435" y="248" width="1" height="1" fill="#1c1c1c"/><rect x="436" y="248" width="1" height="1" fill="#1c1c1c"/><rect x="437" y="248" width="1" height="1" fill="#9a9a9a"/><rect x="427" y="249" width="1" height="1" fill="#3a3a3a"/><rect x="431" y="249" width="1" height="1" fill="#8e8e8e"/><rect x="432" y="249" width="1" height="1" fill="#2a2a2a"/><rect x="433" y="249" width="1" height="1" fill="#1c1c1c"/><rect x="434" y="249" width="1" height="1" fill="#cfcfcf"/><rect x="436" y="249" width="1" height="1" fill="#cfcfcf"/><rect x="437" y="249" width="1" height="1" fill="#3a3a3a"/><rect x="427" y="250" width="1" height="1" fill="#3a3a3a"/><rect x="432" y="250" width="1" height="1" fill="#2a2a2a"/><rect x="433" y="250" width="1" height="1" fill="#1c1c1c"/><rect x="435" y="250" width="1" height="1" fill="#8e8e8e"/><rect x="436" y="250" width="1" height="1" fill="#cfcfcf"/><rect x="437" y="250" width="1" height="1" fill="#3a3a3a"/><rect x="427" y="251" width="1" height="1" fill="#9a9a9a"/><rect x="428" y="251" width="1" height="1" fill="#1c1c1c"/><rect x="429" y="251" width="1" height="1" fill="#8e8e8e"/><rect x="430" y="251" width="1" height="1" fill="#8e8e8e"/><rect x="431" y="251" width="1" height="1" fill="#1c1c1c"/><rect x="432" y="251" width="1" height="1" fill="#888"/><rect x="433" y="251" width="1" height="1" fill="#cfcfcf"/><rect x="434" y="251" width="1" height="1" fill="#8e8e8e"/><rect x="435" y="251" width="1" height="1" fill="#8e8e8e"/><rect x="437" y="251" width="1" height="1" fill="#3a3a3a"/><rect x="427" y="252" width="1" height="1" fill="#3a3a3a"/><rect x="431" y="252" width="1" height="1" fill="#1c1c1c"/><rect x="432" y="252" width="1" height="1" fill="#2a2a2a"/><rect x="436" y="252" width="1" height="1" fill="#1c1c1c"/><rect x="437" y="252" width="1" height="1" fill="#3a3a3a"/><rect x="427" y="253" width="1" height="1" fill="#3a3a3a"/><rect x="428" y="253" width="1" height="1" fill="#1c1c1c"/><rect x="430" y="253" width="1" height="1" fill="#cfcfcf"/><rect x="432" y="253" width="1" height="1" fill="#2a2a2a"/><rect x="434" y="253" width="1" height="1" fill="#cfcfcf"/><rect x="435" y="253" width="1" height="1" fill="#8e8e8e"/><rect x="437" y="253" width="1" height="1" fill="#9a9a9a"/><rect x="427" y="254" width="1" height="1" fill="#3a3a3a"/><rect x="428" y="254" width="1" height="1" fill="#cfcfcf"/><rect x="429" y="254" width="1" height="1" fill="#cfcfcf"/><rect x="430" y="254" width="1" height="1" fill="#8e8e8e"/><rect x="431" y="254" width="1" height="1" fill="#8e8e8e"/><rect x="432" y="254" width="1" height="1" fill="#2a2a2a"/><rect x="433" y="254" width="1" height="1" fill="#8e8e8e"/><rect x="434" y="254" width="1" height="1" fill="#8e8e8e"/><rect x="435" y="254" width="1" height="1" fill="#cfcfcf"/><rect x="437" y="254" width="1" height="1" fill="#3a3a3a"/><rect x="427" y="255" width="1" height="1" fill="#3a3a3a"/><rect x="428" y="255" width="1" height="1" fill="#8e8e8e"/><rect x="430" y="255" width="1" height="1" fill="#1c1c1c"/><rect x="431" y="255" width="1" height="1" fill="#8e8e8e"/><rect x="432" y="255" width="1" height="1" fill="#2a2a2a"/><rect x="434" y="255" width="1" height="1" fill="#cfcfcf"/><rect x="435" y="255" width="1" height="1" fill="#1c1c1c"/><rect x="436" y="255" width="1" height="1" fill="#1c1c1c"/><rect x="437" y="255" width="1" height="1" fill="#3a3a3a"/><rect x="427" y="256" width="1" height="1" fill="#9a9a9a"/><rect x="429" y="256" width="1" height="1" fill="#1c1c1c"/><rect x="430" y="256" width="1" height="1" fill="#1c1c1c"/><rect x="432" y="256" width="1" height="1" fill="#2a2a2a"/><rect x="433" y="256" width="1" height="1" fill="#8e8e8e"/><rect x="434" y="256" width="1" height="1" fill="#8e8e8e"/><rect x="436" y="256" width="1" height="1" fill="#8e8e8e"/><rect x="437" y="256" width="1" height="1" fill="#9a9a9a"/><rect x="427" y="257" width="1" height="1" fill="#3a3a3a"/><rect x="428" y="257" width="1" height="1" fill="#8e8e8e"/><rect x="431" y="257" width="1" height="1" fill="#8e8e8e"/><rect x="432" y="257" width="1" height="1" fill="#2a2a2a"/><rect x="434" y="257" width="1" height="1" fill="#8e8e8e"/><rect x="435" y="257" width="1" height="1" fill="#1c1c1c"/><rect x="437" y="257" width="1" height="1" fill="#3a3a3a"/><rect x="427" y="258" width="1" height="1" fill="#9a9a9a"/><rect x="428" y="258" width="1" height="1" fill="#8e8e8e"/><rect x="430" y="258" width="1" height="1" fill="#cfcfcf"/><rect x="431" y="258" width="1" height="1" fill="#1c1c1c"/><rect x="432" y="258" width="1" height="1" fill="#2a2a2a"/><rect x="433" y="258" width="1" height="1" fill="#cfcfcf"/><rect x="436" y="258" width="1" height="1" fill="#1c1c1c"/><rect x="437" y="258" width="1" height="1" fill="#9a9a9a"/><rect x="427" y="259" width="1" height="1" fill="#3a3a3a"/><rect x="428" y="259" width="1" height="1" fill="#cfcfcf"/><rect x="429" y="259" width="1" height="1" fill="#1c1c1c"/><rect x="430" y="259" width="1" height="1" fill="#8e8e8e"/><rect x="431" y="259" width="1" height="1" fill="#cfcfcf"/><rect x="432" y="259" width="1" height="1" fill="#888"/><rect x="433" y="259" width="1" height="1" fill="#1c1c1c"/><rect x="434" y="259" width="1" height="1" fill="#cfcfcf"/><rect x="437" y="259" width="1" height="1" fill="#3a3a3a"/></g>
<g shape-rendering="crispEdges"><rect x="458" y="243" width="11" height="17" fill="#f4f4f4"/><rect x="458" y="243" width="1" height="1" fill="#3a3a3a"/><rect x="461" y="243" width="1" height="1" fill="#cfcfcf"/><rect x="462" y="243" width="1" height="1" fill="#1c1c1c"/><rect x="463" y="243" width="1" height="1" fill="#888"/><rect x="464" y="243" width="1" height="1" fill="#8e8e8e"/><rect x="468" y="243" width="1" height="1" fill="#3a3a3a"/><rect x="458" y="244" width="1" height="1" fill="#9a9a9a"/><rect x="459" y="244" width="1" height="1" fill="#8e8e8e"/><rect x="460" y="244" width="1" height="1" fill="#8e8e8e"/><rect x="463" y="244" width="1" height="1" fill="#2a2a2a"/><rect x="464" y="244" width="1" height="1" fill="#8e8e8e"/><rect x="465" y="244" width="1" height="1" fill="#8e8e8e"/><rect x="466" y="244" width="1" height="1" fill="#cfcfcf"/><rect x="467" y="244" width="1" height="1" fill="#8e8e8e"/><rect x="468" y="244" width="1" height="1" fill="#3a3a3a"/><rect x="458" y="245" width="1" height="1" fill="#3a3a3a"/><rect x="461" y="245" width="1" height="1" fill="#1c1c1c"/><rect x="462" y="245" width="1" height="1" fill="#cfcfcf"/><rect x="463" y="245" width="1" height="1" fill="#888"/><rect x="464" y="245" width="1" height="1" fill="#1c1c1c"/><rect x="466" y="245" width="1" height="1" fill="#1c1c1c"/><rect x="467" y="245" width="1" height="1" fill="#cfcfcf"/><rect x="468" y="245" width="1" height="1" fill="#9a9a9a"/><rect x="458" y="246" width="1" height="1" fill="#9a9a9a"/><rect x="459" y="246" width="1" height="1" fill="#8e8e8e"/><rect x="460" y="246" width="1" height="1" fill="#cfcfcf"/><rect x="461" y="246" width="1" height="1" fill="#cfcfcf"/><rect x="462" y="246" width="1" height="1" fill="#cfcfcf"/><rect x="463" y="246" width="1" height="1" fill="#2a2a2a"/><rect x="464" y="246" width="1" height="1" fill="#cfcfcf"/><rect x="465" y="246" width="1" height="1" fill="#cfcfcf"/><rect x="466" y="246" width="1" height="1" fill="#1c1c1c"/><rect x="467" y="246" width="1" height="1" fill="#cfcfcf"/><rect x="468" y="246" width="1" height="1" fill="#3a3a3a"/><rect x="458" y="247" width="1" height="1" fill="#3a3a3a"/><rect x="461" y="247" width="1" height="1" fill="#cfcfcf"/><rect x="462" y="247" width="1" height="1" fill="#1c1c1c"/><rect x="463" y="247" width="1" height="1" fill="#2a2a2a"/><rect x="464" y="247" width="1" height="1" fill="#1c1c1c"/><rect x="465" y="247" width="1" height="1" fill="#1c1c1c"/><rect x="466" y="247" width="1" height="1" fill="#cfcfcf"/><rect x="467" y="247" width="1" height="1" fill="#1c1c1c"/><rect x="468" y="247" width="1" height="1" fill="#3a3a3a"/><rect x="458" y="248" width="1" height="1" fill="#3a3a3a"/><rect x="459" y="248" width="1" height="1" fill="#1c1c1c"/><rect x="461" y="248" width="1" height="1" fill="#1c1c1c"/><rect x="463" y="248" width="1" height="1" fill="#888"/><rect x="464" y="248" width="1" height="1" fill="#cfcfcf"/><rect x="465" y="248" width="1" height="1" fill="#1c1c1c"/><rect x="466" y="248" width="1" height="1" fill="#cfcfcf"/><rect x="467" y="248" width="1" height="1" fill="#8e8e8e"/><rect x="468" y="248" width="1" height="1" fill="#9a9a9a"/><rect x="458" y="249" width="1" height="1" fill="#3a3a3a"/><rect x="463" y="249" width="1" height="1" fill="#2a2a2a"/><rect x="465" y="249" width="1" height="1" fill="#cfcfcf"/><rect x="468" y="249" width="1" height="1" fill="#3a3a3a"/><rect x="458" y="250" width="1" height="1" fill="#9a9a9a"/><rect x="460" y="250" width="1" height="1" fill="#1c1c1c"/><rect x="461" y="250" width="1" height="1" fill="#8e8e8e"/><rect x="463" y="250" width="1" height="1" fill="#2a2a2a"/><rect x="465" y="250" width="1" height="1" fill="#8e8e8e"/><rect x="467" y="250" width="1" height="1" fill="#1c1c1c"/><rect x="468" y="250" width="1" height="1" fill="#3a3a3a"/><rect x="458" y="251" width="1" height="1" fill="#9a9a9a"/><rect x="459" y="251" width="1" height="1" fill="#8e8e8e"/><rect x="460" y="251" width="1" height="1" fill="#8e8e8e"/><rect x="461" y="251" width="1" height="1" fill="#cfcfcf"/><rect x="462" y="251" width="1" height="1" fill="#8e8e8e"/><rect x="463" y="251" width="1" height="1" fill="#2a2a2a"/><rect x="464" y="251" width="1" height="1" fill="#1c1c1c"/><rect x="465" y="251" width="1" height="1" fill="#1c1c1c"/><rect x="468" y="251" width="1" height="1" fill="#9a9a9a"/><rect x="458" y="252" width="1" height="1" fill="#3a3a3a"/><rect x="460" y="252" width="1" height="1" fill="#1c1c1c"/><rect x="461" y="252" width="1" height="1" fill="#cfcfcf"/><rect x="463" y="252" width="1" height="1" fill="#2a2a2a"/><rect x="465" y="252" width="1" height="1" fill="#cfcfcf"/><rect x="466" y="252" width="1" height="1" fill="#cfcfcf"/><rect x="468" y="252" width="1" height="1" fill="#3a3a3a"/><rect x="458" y="253" width="1" height="1" fill="#9a9a9a"/><rect x="460" y="253" width="1" height="1" fill="#8e8e8e"/><rect x="462" y="253" width="1" height="1" fill="#8e8e8e"/><rect x="463" y="253" width="1" height="1" fill="#888"/><rect x="464" y="253" width="1" height="1" fill="#cfcfcf"/><rect x="465" y="253" width="1" height="1" fill="#8e8e8e"/><rect x="467" y="253" width="1" height="1" fill="#cfcfcf"/><rect x="468" y="253" width="1" height="1" fill="#3a3a3a"/><rect x="458" y="254" width="1" height="1" fill="#9a9a9a"/><rect x="459" y="254" width="1" height="1" fill="#1c1c1c"/><rect x="461" y="254" width="1" height="1" fill="#8e8e8e"/><rect x="463" y="254" width="1" height="1" fill="#888"/><rect x="464" y="254" width="1" height="1" fill="#cfcfcf"/><rect x="466" y="254" width="1" height="1" fill="#8e8e8e"/><rect x="467" y="254" width="1" height="1" fill="#1c1c1c"/><rect x="468" y="254" width="1" height="1" fill="#3a3a3a"/><rect x="458" y="255" width="1" height="1" fill="#3a3a3a"/><rect x="459" y="255" width="1" height="1" fill="#cfcfcf"/><rect x="460" y="255" width="1" height="1" fill="#cfcfcf"/><rect x="461" y="255" width="1" height="1" fill="#cfcfcf"/><rect x="463" y="255" width="1" height="1" fill="#2a2a2a"/><rect x="464" y="255" width="1" height="1" fill="#8e8e8e"/><rect x="466" y="255" width="1" height="1" fill="#1c1c1c"/><rect x="467" y="255" width="1" height="1" fill="#1c1c1c"/><rect x="468" y="255" width="1" height="1" fill="#3a3a3a"/><rect x="458" y="256" width="1" height="1" fill="#3a3a3a"/><rect x="459" y="256" width="1" height="1" fill="#8e8e8e"/><rect x="460" y="256" width="1" height="1" fill="#8e8e8e"/><rect x="461" y="256" width="1" height="1" fill="#cfcfcf"/><rect x="462" y="256" width="1" height="1" fill="#cfcfcf"/><rect x="463" y="256" width="1" height="1" fill="#2a2a2a"/><rect x="465" y="256" width="1" height="1" fill="#cfcfcf"/><rect x="466" y="256" width="1" height="1" fill="#1c1c1c"/><rect x="468" y="256" width="1" height="1" fill="#3a3a3a"/><rect x="458" y="257" width="1" height="1" fill="#3a3a3a"/><rect x="459" y="257" width="1" height="1" fill="#1c1c1c"/><rect x="463" y="257" width="1" height="1" fill="#2a2a2a"/><rect x="464" y="257" width="1" height="1" fill="#8e8e8e"/><rect x="465" y="257" width="1" height="1" fill="#1c1c1c"/><rect x="467" y="257" width="1" height="1" fill="#cfcfcf"/><rect x="468" y="257" width="1" height="1" fill="#3a3a3a"/><rect x="458" y="258" width="1" height="1" fill="#9a9a9a"/><rect x="459" y="258" width="1" height="1" fill="#cfcfcf"/><rect x="462" y="258" width="1" height="1" fill="#8e8e8e"/><rect x="463" y="258" width="1" height="1" fill="#888"/><rect x="464" y="258" width="1" height="1" fill="#1c1c1c"/><rect x="465" y="258" width="1" height="1" fill="#cfcfcf"/><rect x="466" y="258" width="1" height="1" fill="#8e8e8e"/><rect x="467" y="258" width="1" height="1" fill="#8e8e8e"/><rect x="468" y="258" width="1" height="1" fill="#3a3a3a"/><rect x="458" y="259" width="1" height="1" fill="#9a9a9a"/><rect x="459" y="259" width="1" height="1" fill="#1c1c1c"/><rect x="460" y="259" width="1" height="1" fill="#cfcfcf"/><rect x="462" y="259" width="1" height="1" fill="#1c1c1c"/><rect x="463" y="259" width="1" height="1" fill="#2a2a2a"/><rect x="464" y="259" width="1" height="1" fill="#cfcfcf"/><rect x="465" y="259" width="1" height="1" fill="#cfcfcf"/><rect x="468" y="259" width="1" height="1" fill="#3a3a3a"/></g>
<line x1="297.5" y1="260" x2="297.5" y2="286.1" stroke="#3a3d40" stroke-width="0.9"/>
<line x1="327.6" y1="260" x2="327.6" y2="270.6" stroke="#3a3d40" stroke-width="0.9"/>
<line x1="362.4" y1="260" x2="362.4" y2="267.8" stroke="#3a3d40" stroke-width="0.9"/>
<line x1="396.4" y1="260" x2="396.4" y2="266.4" stroke="#3a3d40" stroke-width="0.9"/>
<line x1="426.9" y1="260" x2="426.9" y2="269.7" stroke="#555" stroke-width="0.9"/>
<line x1="431.5" y1="260" x2="431.5" y2="267.7" stroke="#3a3d40" stroke-width="0.9"/>
<line x1="437.2" y1="260" x2="437.2" y2="269.7" stroke="#555" stroke-width="0.9"/>
<line x1="419.6" y1="269.7" x2="427.3" y2="269.7" stroke="#555" stroke-width="0.9"/>
<line x1="436.8" y1="269.7" x2="457.8" y2="269.7" stroke="#555" stroke-width="0.9"/>
<line x1="463.3" y1="260" x2="463.3" y2="286.3" stroke="#3a3d40" stroke-width="0.9"/>
<line x1="297.4" y1="268.1" x2="328" y2="268.1" stroke="#3a3d40" stroke-width="0.9"/>
<polygon points="297.6,268.1 301.20000000000005,266.40000000000003 301.20000000000005,269.8" fill="#222"/>
<polygon points="327.6,268.1 324.0,266.40000000000003 324.0,269.8" fill="#222"/>
<line x1="297.4" y1="281.3" x2="463.2" y2="281.3" stroke="#3a3d40" stroke-width="0.9"/>
<polygon points="297.6,281.3 301.20000000000005,279.6 301.20000000000005,283.0" fill="#222"/>
<polygon points="463.2,281.3 459.59999999999997,279.6 459.59999999999997,283.0" fill="#222"/>
<text transform="translate(307.01,265.00) scale(0.836,1)" font-size="9.43" fill="#2e2e2e" font-weight="normal">C1</text>
<text transform="translate(358.20,278.10) scale(1.066,1)" font-size="9.43" fill="#2e2e2e" font-weight="normal">(n−1)xC1</text>
<text transform="translate(439.34,267.90) scale(0.967,1)" font-size="9.43" fill="#2e2e2e" font-weight="normal">240</text>
<polyline points="468.9,243.1 490.1,243.1 490.1,246.3" fill="none" stroke="#555" stroke-width="0.9"/>
<polyline points="468.9,259.8 490.1,259.8 490.1,257" fill="none" stroke="#555" stroke-width="0.9"/>
<text y="255.4" font-size="10.4" fill="#2e2e2e"><tspan x="471" textLength="14.3" lengthAdjust="spacingAndGlyphs">300</tspan><tspan x="485.4" dy="-0.9" textLength="7.8" lengthAdjust="spacingAndGlyphs" fill="#666">—</tspan><tspan x="493.4" dy="0.9" textLength="15.5" lengthAdjust="spacingAndGlyphs">600</tspan></text>
<polyline points="462.9,259.8 476.4,286 532.4,286" fill="none" stroke="#3a3d40" stroke-width="0.9"/>
<text transform="translate(480.01,283.03) scale(1.013,1)" font-size="9.68" fill="#1d1d1d" font-weight="500">C20级素砼</text>
<text transform="translate(484.00,297.70) scale(1.010,1)" font-size="10.00" fill="#1d1d1d" font-weight="500">砌筑支座</text>
<!-- bottom-left: tank elevation -->
<rect x="87.50" y="368.50" width="175.10" height="89.90" rx="0" fill="#fdfdfe" stroke="#757c83" stroke-width="1.1"/>
<line x1="131.8" y1="368.5" x2="131.8" y2="458.4" stroke="#757c83" stroke-width="1.1"/>
<line x1="174.9" y1="368.5" x2="174.9" y2="458.4" stroke="#757c83" stroke-width="1.1"/>
<line x1="217.8" y1="368.5" x2="217.8" y2="458.4" stroke="#757c83" stroke-width="1.1"/>
<line x1="87.5" y1="413.9" x2="262.6" y2="413.9" stroke="#757c83" stroke-width="1.1"/>
<rect x="91.60" y="373.30" width="37.20" height="36.80" rx="7" fill="none" stroke="#4f565d" stroke-width="1.1"/>
<circle cx="110.9" cy="392" r="14.7" fill="none" stroke="#4f565d" stroke-width="1.1"/>
<rect x="134.80" y="373.30" width="37.30" height="36.80" rx="7" fill="none" stroke="#4f565d" stroke-width="1.1"/>
<circle cx="154.4" cy="392" r="14.7" fill="none" stroke="#4f565d" stroke-width="1.1"/>
<rect x="178.50" y="373.30" width="36.30" height="36.80" rx="7" fill="none" stroke="#4f565d" stroke-width="1.1"/>
<circle cx="197.8" cy="392" r="14.7" fill="none" stroke="#4f565d" stroke-width="1.1"/>
<rect x="222.00" y="373.30" width="37.00" height="36.80" rx="7" fill="none" stroke="#4f565d" stroke-width="1.1"/>
<circle cx="241.4" cy="392" r="14.7" fill="none" stroke="#4f565d" stroke-width="1.1"/>
<rect x="91.60" y="417.00" width="37.20" height="37.00" rx="7" fill="none" stroke="#4f565d" stroke-width="1.1"/>
<circle cx="110.9" cy="435.5" r="14.7" fill="none" stroke="#4f565d" stroke-width="1.1"/>
<rect x="134.80" y="417.00" width="37.30" height="37.00" rx="7" fill="none" stroke="#4f565d" stroke-width="1.1"/>
<circle cx="154.4" cy="435.5" r="14.7" fill="none" stroke="#4f565d" stroke-width="1.1"/>
<rect x="178.50" y="417.00" width="36.30" height="37.00" rx="7" fill="none" stroke="#4f565d" stroke-width="1.1"/>
<circle cx="197.8" cy="435.5" r="14.7" fill="none" stroke="#4f565d" stroke-width="1.1"/>
<rect x="222.00" y="417.00" width="37.00" height="37.00" rx="7" fill="none" stroke="#4f565d" stroke-width="1.1"/>
<circle cx="241.4" cy="435.5" r="14.7" fill="none" stroke="#4f565d" stroke-width="1.1"/>
<line x1="65.4" y1="368.5" x2="83.9" y2="368.5" stroke="#6a6e72" stroke-width="0.9"/>
<line x1="66" y1="458.2" x2="83.9" y2="458.2" stroke="#6a6e72" stroke-width="0.9"/>
<line x1="77.5" y1="368.5" x2="77.5" y2="458.2" stroke="#3a3d40" stroke-width="0.9"/>
<polygon points="77.5,368.9 75.5,372.29999999999995 79.5,372.29999999999995" fill="#222"/>
<polygon points="77.5,457.8 75.5,454.40000000000003 79.5,454.40000000000003" fill="#222"/>
<circle cx="125.6" cy="450.8" r="4.9" fill="none" stroke="#333" stroke-width="1.1"/>
<line x1="118.7" y1="450.8" x2="132.8" y2="450.8" stroke="#3a3d40" stroke-width="0.9"/>
<line x1="125.6" y1="444.8" x2="125.6" y2="458.8" stroke="#3a3d40" stroke-width="0.9"/>
<polyline points="71.9,474.3 109.8,474.3 125,452" fill="none" stroke="#3a3d40" stroke-width="0.9"/>
<circle cx="223.3" cy="376.5" r="4.9" fill="none" stroke="#333" stroke-width="1.1"/>
<line x1="216.8" y1="376.5" x2="229.7" y2="376.5" stroke="#3a3d40" stroke-width="0.9"/>
<line x1="223.3" y1="369.9" x2="223.3" y2="382.8" stroke="#3a3d40" stroke-width="0.9"/>
<polyline points="168,365.3 209.8,365.3 221.8,375.9" fill="none" stroke="#3a3d40" stroke-width="0.9"/>
<polyline points="204.8,353.3 229.2,353.3 238.4,360.8" fill="none" stroke="#3a3d40" stroke-width="0.9"/>
<rect x="227.20" y="361.60" width="23.20" height="3.60" rx="1.5" fill="#fff" stroke="#626970" stroke-width="1.1"/>
<rect x="231.00" y="365.20" width="16.50" height="3.30" rx="0" fill="#fff" stroke="#626970" stroke-width="1.1"/>
<line x1="239.3" y1="353" x2="239.3" y2="373.5" stroke="#3a3d40" stroke-width="0.9"/>
<rect x="253.90" y="351.20" width="4.50" height="17.30" rx="0" fill="#fff" stroke="#626970" stroke-width="1.1"/>
<polyline points="258.4,361.6 272.2,361.6 272.2,446.4 267.5,446.4 267.5,365.2 258.4,365.2" fill="none" stroke="#626970" stroke-width="1.1"/>
<line x1="263.8" y1="368.5" x2="263.8" y2="458.4" stroke="#7a8188" stroke-width="0.8"/>
<line x1="262.6" y1="386.2" x2="267.5" y2="386.2" stroke="#626970" stroke-width="1.1"/>
<line x1="262.6" y1="403.7" x2="267.5" y2="403.7" stroke="#626970" stroke-width="1.1"/>
<line x1="262.6" y1="421.3" x2="267.5" y2="421.3" stroke="#626970" stroke-width="1.1"/>
<line x1="262.6" y1="438.8" x2="267.5" y2="438.8" stroke="#626970" stroke-width="1.1"/>
<line x1="223.3" y1="447.8" x2="223.3" y2="468.7" stroke="#3a3d40" stroke-width="0.9"/>
<line x1="219.8" y1="460.7" x2="226.7" y2="460.7" stroke="#3a3d40" stroke-width="0.9"/>
<line x1="221.3" y1="458.4" x2="221.3" y2="460.7" stroke="#3a3d40" stroke-width="0.8"/>
<line x1="225.3" y1="458.4" x2="225.3" y2="460.7" stroke="#3a3d40" stroke-width="0.8"/>
<polyline points="172,473.7 208.8,473.7 220.8,459.8" fill="none" stroke="#3a3d40" stroke-width="0.9"/>
<text transform="translate(171.58,362.68) scale(1.161,1)" font-size="9.15" fill="#1d1d1d" font-weight="500">溢水管</text>
<text transform="translate(206.78,349.67) scale(1.163,1)" font-size="9.13" fill="#1d1d1d" font-weight="500">人孔</text>
<text transform="translate(275.60,388.07) scale(0.969,1)" font-size="10.43" fill="#1d1d1d" font-weight="500">人</text>
<text transform="translate(275.69,403.29) scale(1.011,1)" font-size="10.11" fill="#1d1d1d" font-weight="500">梯</text>
<text transform="translate(73.19,470.84) scale(1.161,1)" font-size="9.57" fill="#1d1d1d" font-weight="500">出水孔</text>
<text transform="translate(172.46,470.52) scale(1.113,1)" font-size="9.78" fill="#2a2a2a" font-weight="normal">泄水孔</text>
<!-- bottom-right: support plan -->
<rect x="334.10" y="367.60" width="18.20" height="92.60" rx="0.6" fill="#fcfdfe" stroke="#666d74" stroke-width="1"/>
<rect x="369.10" y="367.60" width="18.50" height="92.60" rx="0.6" fill="#f7f9fc" stroke="#666d74" stroke-width="1"/>
<rect x="405.00" y="367.60" width="18.90" height="92.60" rx="0.6" fill="#f7f9fc" stroke="#666d74" stroke-width="1"/>
<rect x="440.40" y="367.60" width="18.40" height="92.60" rx="0.6" fill="#f7f9fc" stroke="#666d74" stroke-width="1"/>
<rect x="476.60" y="367.60" width="18.90" height="92.60" rx="0.6" fill="#f7f9fc" stroke="#666d74" stroke-width="1"/>
<rect x="513.40" y="367.60" width="19.00" height="92.60" rx="0.6" fill="#fcfdfe" stroke="#666d74" stroke-width="1"/>
<polyline points="341.45,454.6 341.45,373.1 523.9,373.1" fill="none" stroke="#6f7881" stroke-width="1"/>
<polyline points="341.45,454.6 523.9,454.6 523.9,373.1" fill="none" stroke="#3c4146" stroke-width="1"/>
<polyline points="344.6,452.5 344.6,376.1 520.8,376.1" fill="none" stroke="#373c41" stroke-width="1"/>
<polyline points="344.6,452.5 520.8,452.5 520.8,376.1" fill="none" stroke="#6f7881" stroke-width="1"/>
<line x1="313.5" y1="373.2" x2="327.9" y2="373.2" stroke="#4a4a4a" stroke-width="0.85"/>
<line x1="313.5" y1="454.6" x2="327.9" y2="454.6" stroke="#4a4a4a" stroke-width="0.85"/>
<line x1="321.3" y1="373" x2="321.3" y2="454.6" stroke="#8a8a8a" stroke-width="0.9"/>
<polygon points="321.3,373.4 319.3,376.79999999999995 323.3,376.79999999999995" fill="#222"/>
<polygon points="321.3,454.3 319.3,450.90000000000003 323.3,450.90000000000003" fill="#222"/>
<text transform="translate(309.63,416.70) scale(0.923,1)" font-size="10.43" fill="#2e2e2e" font-weight="normal">B</text>
<line x1="341.4" y1="465.7" x2="341.4" y2="483" stroke="#666" stroke-width="0.9"/>
<line x1="523.8" y1="465.7" x2="523.8" y2="483" stroke="#666" stroke-width="0.9"/>
<line x1="341.4" y1="476.3" x2="523.8" y2="476.3" stroke="#3a3d40" stroke-width="0.9"/>
<polygon points="341.8,476.3 345.40000000000003,474.45 345.40000000000003,478.15000000000003" fill="#222"/>
<polygon points="523.4,476.3 519.8,474.45 519.8,478.15000000000003" fill="#222"/>
<text transform="translate(427.81,473.30) scale(0.864,1)" font-size="10.00" fill="#2e2e2e" font-weight="normal">L</text>
</g>
<!-- captions -->
<text transform="translate(204.02,322.95) scale(1.018,1)" font-size="9.45" fill="#000" font-weight="bold">平面图</text>
<text transform="translate(346.31,322.99) scale(1.071,1)" font-size="8.96" fill="#000" font-weight="bold">支座布置图</text>
<g class="wm">
<text transform="translate(26.7,333.9) rotate(-46.5)" font-size="45" font-weight="900" letter-spacing="3" fill="rgba(255,255,255,0.34)" stroke="rgba(0,0,0,0.055)" stroke-width="2.4" stroke-linejoin="round" paint-order="stroke">水箱厂家直销</text>
<text transform="translate(377.4,330) rotate(-46.5)" font-size="45" font-weight="900" letter-spacing="3" fill="rgba(255,255,255,0.34)" stroke="rgba(0,0,0,0.055)" stroke-width="2.4" stroke-linejoin="round" paint-order="stroke">水箱厂家直销</text>
<text transform="translate(25.5,683.4) rotate(-46.5)" font-size="45" font-weight="900" letter-spacing="3" fill="rgba(255,255,255,0.34)" stroke="rgba(0,0,0,0.055)" stroke-width="2.4" stroke-linejoin="round" paint-order="stroke">水箱厂家直销</text>
<text transform="translate(378.4,679.9) rotate(-46.5)" font-size="45" font-weight="900" letter-spacing="3" fill="rgba(255,255,255,0.34)" stroke="rgba(0,0,0,0.055)" stroke-width="2.4" stroke-linejoin="round" paint-order="stroke">水箱厂家直销</text>
</g>
</svg>
</body>
</html>
